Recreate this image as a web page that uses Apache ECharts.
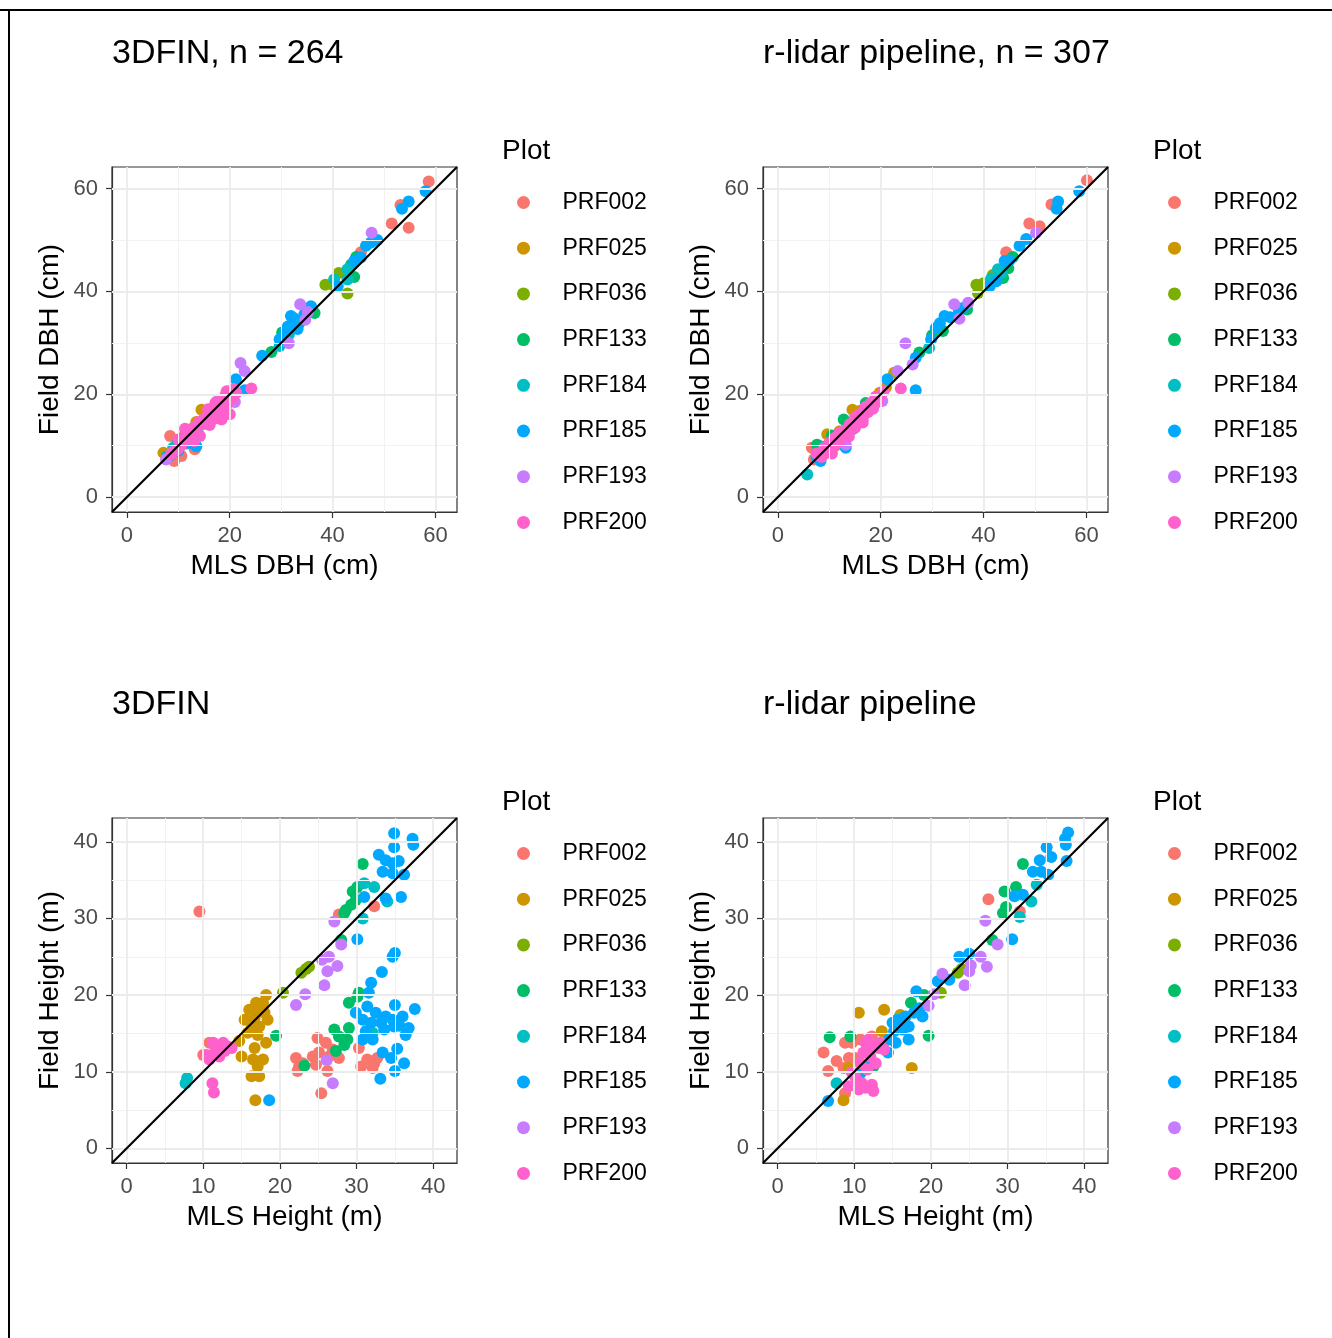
<!DOCTYPE html>
<html><head><meta charset="utf-8">
<script src="https://cdn.jsdelivr.net/npm/echarts@6/dist/echarts.min.js"></script>
<style>html,body{margin:0;padding:0;background:#fff}#c{width:1332px;height:1338px}</style>
</head><body><div id="c"></div>
<script>
const plots = ['PRF002','PRF025','PRF036','PRF133','PRF184','PRF185','PRF193','PRF200'];
const colors = ['#F8766D','#CD9600','#7CAE00','#00BE67','#00BFC4','#00A9FF','#C77CFF','#FF61CC'];

const dbhTicks = [0,20,40,60];
const dbhMinor = [10,30,50];
const htTicks = [0,10,20,30,40];
const htMinor = [5,15,25,35];
const dbhRange = [-2.9, 64.2];
const htRange = [-1.9, 43.1];

// ---- Panel 1: 3DFIN DBH (MLS, Field) ----
const dbhFin002 = [[58.7,61.4],[53.2,56.8],[51.5,53.2],[54.8,52.4],[45.5,47.6],[8.4,11.9],[9.2,7.0],[10.6,8.0],[13.2,9.3],[9.5,8.6],[11.6,10.4],[12.8,12.4],[15.2,14.3],[10.2,10.0],[17.0,16.2]];
const dbhFin025 = [[7.1,8.6],[14.5,17.0],[20.6,20.9],[12.0,12.6],[16.5,16.2],[18.0,18.6],[10.5,11.0],[13.5,14.6],[19.2,19.8],[15.6,16.8],[11.2,12.0]];
const dbhFin036 = [[41.2,43.6],[38.6,41.3],[42.9,39.6],[40.2,41.2],[43.0,43.4]];
const dbhFin133 = [[44.6,46.7],[44.2,42.8],[36.5,35.8],[30.2,32.0],[28.1,28.2],[43.6,45.2],[12.2,11.6],[14.2,13.9],[33.5,33.8],[9.8,10.4]];
const dbhFin184 = [[40.3,42.3],[42.9,44.3],[42.9,42.3],[29.7,29.4],[9.0,9.6],[11.0,10.6],[31.5,31.6]];
const dbhFin185 = [[58.1,59.5],[54.8,57.5],[53.5,56.1],[46.5,48.9],[48.7,50.0],[44.2,45.9],[45.5,46.6],[41.0,41.0],[35.8,37.1],[31.9,35.2],[31.3,33.2],[33.2,32.7],[32.5,34.8],[29.7,30.7],[26.3,27.5],[21.2,22.9],[22.9,20.8],[13.5,9.9],[10.0,9.0],[8.5,8.2],[12.0,10.5],[14.0,12.0],[11.0,11.3],[16.0,15.0],[34.5,35.5],[30.8,32.2],[47.5,49.5],[7.8,7.9]];
const dbhFin193 = [[47.6,51.4],[33.7,37.5],[34.7,34.5],[31.5,29.9],[22.1,26.1],[22.9,24.5],[21.0,18.5],[7.6,7.3],[17.5,18.6],[19.5,19.0],[35.2,36.0]];
const dbhFin200 = [[9.0,8.8],[9.8,9.2],[10.5,10.0],[11.3,13.3],[11.0,10.8],[11.8,12.4],[12.2,11.5],[12.6,12.0],[13.0,12.6],[13.4,13.8],[14.2,11.9],[14.5,14.1],[15.0,15.3],[15.5,14.4],[15.9,16.6],[16.4,15.6],[16.8,17.3],[17.4,16.1],[17.8,18.6],[18.4,15.1],[18.8,17.6],[19.1,19.6],[19.5,18.1],[20.0,16.1],[20.2,20.1],[20.6,19.2],[24.2,21.1],[12.8,13.4],[14.0,14.6],[15.8,17.1],[17.2,18.3],[19.4,20.6],[20.8,21.0],[13.1,10.9],[16.1,14.0],[10.0,11.2],[8.6,8.4],[18.0,16.8],[16.9,15.2],[21.3,20.3]];

// ---- Panel 2: r-lidar DBH ----
const dbhLid002 = [[60.1,61.6],[53.2,56.9],[48.9,53.2],[50.9,52.7],[44.4,47.6],[6.6,9.6],[7.0,7.3],[9.0,8.4],[11.2,10.0],[13.5,12.3],[8.0,10.0],[15.5,14.8]];
const dbhLid025 = [[9.6,12.2],[14.5,17.0],[22.6,24.2],[21.0,21.3],[12.0,12.8],[17.5,18.0],[19.8,20.3],[10.8,11.0],[16.0,16.8]];
const dbhLid036 = [[38.6,41.3],[38.9,39.7],[40.0,41.6],[41.8,43.2]];
const dbhLid133 = [[45.7,46.7],[43.8,42.6],[32.1,32.3],[27.5,28.1],[7.6,10.2],[12.8,15.1],[17.1,18.3],[36.8,36.5],[44.8,44.5],[10.5,12.0],[30.0,31.5]];
const dbhLid184 = [[42.8,44.3],[29.4,29.0],[5.7,4.4],[9.0,9.8],[41.5,42.5],[43.5,43.6]];
const dbhLid185 = [[58.6,59.5],[54.5,57.5],[54.2,56.1],[48.3,50.2],[47.0,48.9],[44.1,45.9],[41.2,41.0],[36.0,36.8],[32.4,35.2],[30.7,32.9],[29.8,30.7],[26.8,27.1],[21.3,22.9],[26.8,20.8],[8.3,7.0],[13.2,9.6],[33.5,35.0],[35.2,36.2],[42.5,42.0],[45.0,46.0],[10.0,9.0],[12.0,10.8],[7.5,7.8],[31.5,33.8],[14.5,13.2]];
const dbhLid193 = [[50.2,51.4],[34.3,37.5],[35.3,34.7],[24.8,29.9],[26.2,25.8],[23.3,24.5],[13.2,10.2],[20.3,18.7],[37.0,37.8]];
const dbhLid200 = [[7.5,8.5],[8.2,8.0],[9.0,9.5],[9.5,8.8],[10.0,10.5],[10.5,9.8],[11.0,11.5],[11.5,10.5],[12.0,12.5],[12.5,11.8],[13.0,13.0],[13.5,12.2],[14.0,14.2],[14.5,13.5],[15.0,15.5],[15.5,14.5],[16.0,16.2],[16.5,15.2],[17.0,17.5],[17.5,16.5],[18.0,18.2],[18.5,17.2],[19.0,19.5],[19.5,18.5],[20.0,19.8],[20.5,20.5],[12.0,10.8],[10.5,8.5],[8.5,7.8],[15.0,13.5],[23.9,21.1],[16.5,14.5],[13.8,11.8],[18.8,18.9]];

// ---- Panel 3: 3DFIN height ----
const htFin002 = [[9.5,30.9],[10.8,13.8],[10.0,12.2],[27.7,30.5],[32.3,31.6],[24.9,14.4],[26.0,13.8],[22.1,11.8],[22.5,10.7],[22.3,10.1],[23.0,11.1],[24.3,12.0],[24.7,10.9],[25.1,12.5],[26.4,12.0],[26.9,12.9],[27.7,11.8],[26.2,10.1],[25.4,7.2],[30.3,13.1],[30.6,10.7],[31.4,11.6],[32.3,11.1],[32.7,11.8],[32.1,10.5]];
const htFin025 = [[18.2,20.0],[17.8,19.0],[16.9,19.0],[16.0,18.1],[17.1,18.1],[18.0,17.7],[15.4,16.8],[16.7,17.0],[18.4,16.8],[16.3,15.7],[17.3,15.9],[15.8,15.1],[17.1,14.8],[18.2,13.8],[14.7,14.0],[16.7,13.1],[15.0,12.0],[16.5,11.6],[17.8,11.6],[17.1,10.7],[16.3,9.4],[17.3,9.4],[16.8,6.3]];
const htFin036 = [[20.4,20.3],[22.8,22.9],[23.4,23.4],[23.8,23.7]];
const htFin133 = [[30.8,37.1],[29.5,33.5],[30.1,34.1],[29.9,32.4],[29.3,31.8],[28.6,31.1],[28.4,30.7],[28.0,27.2],[19.5,14.7],[23.2,10.8],[29.0,19.0],[30.1,19.8],[30.3,20.3],[27.1,15.5],[27.7,14.6],[28.8,14.2],[29.0,15.7],[27.3,12.7],[28.4,13.5]];
const htFin184 = [[7.9,9.2],[7.7,8.5],[31.0,34.6],[32.3,34.1],[30.8,30.0],[34.0,32.2],[32.1,15.1]];
const htFin185 = [[34.9,41.1],[37.3,40.4],[37.4,39.6],[34.9,39.3],[32.9,38.3],[33.8,37.6],[35.5,37.5],[33.4,36.1],[34.7,35.9],[36.2,35.7],[34.7,37.2],[31.0,32.8],[33.8,32.6],[35.8,32.8],[30.1,27.3],[34.7,25.0],[35.0,25.5],[33.3,23.0],[31.9,21.6],[31.6,20.3],[35.0,18.7],[37.6,18.2],[31.4,18.5],[29.9,17.7],[32.5,17.7],[33.8,17.2],[34.7,16.8],[36.0,17.2],[30.8,16.8],[31.9,16.4],[33.2,16.4],[33.6,15.5],[34.9,15.9],[36.8,15.7],[31.2,15.3],[30.8,14.2],[32.1,14.2],[35.3,13.0],[33.4,12.5],[34.5,11.8],[36.2,11.1],[35.0,10.1],[33.1,9.1],[18.6,6.3],[36.4,14.8],[35.6,16.0]];
const htFin193 = [[27.1,29.6],[28.0,26.6],[25.5,24.6],[26.4,25.0],[26.2,23.1],[27.5,23.8],[25.8,21.3],[23.3,20.1],[22.1,18.7],[26.1,11.5],[26.9,8.5]];
const htFin200 = [[11.3,13.8],[11.9,13.3],[12.6,13.8],[13.2,13.3],[11.5,12.5],[12.1,12.0],[10.8,11.6],[12.8,12.7],[13.7,13.1],[10.4,12.2],[11.2,8.5],[11.4,7.3]];

// ---- Panel 4: r-lidar height ----
const htLid002 = [[27.5,32.5],[31.6,30.9],[6.0,12.5],[6.6,10.1],[7.7,11.4],[8.6,10.5],[9.3,11.8],[10.1,11.8],[8.8,13.8],[9.7,13.8],[10.8,14.2],[11.7,13.8],[12.3,14.6],[8.8,7.2]];
const htLid025 = [[10.6,17.7],[13.9,18.1],[17.5,10.5],[8.6,6.3],[9.3,10.5],[13.6,15.3],[16.0,17.4]];
const htLid036 = [[23.5,22.9],[21.3,20.3],[24.0,23.4]];
const htLid133 = [[32.0,37.1],[29.6,33.5],[31.1,34.1],[29.8,31.5],[29.4,30.7],[28.0,27.2],[6.8,14.5],[9.5,14.6],[19.7,14.7],[17.4,19.0],[19.1,20.0],[12.5,10.7]];
const htLid184 = [[7.7,8.5],[33.1,32.2],[31.6,30.2],[33.8,34.4]];
const htLid185 = [[37.9,41.2],[37.5,40.4],[37.6,39.6],[35.1,39.3],[35.7,38.0],[34.2,37.6],[37.7,37.5],[33.3,36.1],[34.4,36.1],[35.3,35.7],[30.9,32.9],[32.0,33.1],[30.6,27.3],[23.7,25.0],[25.0,25.4],[20.9,21.8],[22.4,22.0],[18.1,20.5],[18.5,18.3],[18.9,17.2],[17.8,17.7],[16.7,17.2],[15.6,16.8],[15.0,16.4],[17.1,15.9],[16.3,15.5],[15.2,15.3],[17.1,14.2],[14.4,12.5],[15.4,13.8],[14.5,14.2],[6.6,6.2],[10.8,9.8],[12.0,11.0]];
const htLid193 = [[27.1,29.7],[28.7,26.6],[26.5,25.0],[27.3,23.7],[25.2,23.9],[25.0,23.1],[24.4,21.3],[21.5,22.8],[20.4,20.1],[19.7,18.6]];
const htLid200 = [[11.5,13.8],[12.3,13.3],[13.2,13.1],[13.9,12.9],[11.2,12.5],[12.1,12.0],[12.8,11.1],[10.8,11.1],[11.7,10.3],[10.1,9.4],[11.0,8.5],[9.3,8.1],[10.6,7.7],[11.5,7.9],[12.3,8.3],[12.5,7.5],[13.4,13.8],[11.9,14.2],[9.7,9.9],[10.4,8.8]];

const panels = [
  {series:[dbhFin002,dbhFin025,dbhFin036,dbhFin133,dbhFin184,dbhFin185,dbhFin193,dbhFin200], range:dbhRange, ticks:dbhTicks, minor:dbhMinor,
   title:'3DFIN, n = 264', xt:'MLS DBH (cm)', yt:'Field DBH (cm)', left:112, top:167},
  {series:[dbhLid002,dbhLid025,dbhLid036,dbhLid133,dbhLid184,dbhLid185,dbhLid193,dbhLid200], range:dbhRange, ticks:dbhTicks, minor:dbhMinor,
   title:'r-lidar pipeline, n = 307', xt:'MLS DBH (cm)', yt:'Field DBH (cm)', left:763, top:167},
  {series:[htFin002,htFin025,htFin036,htFin133,htFin184,htFin185,htFin193,htFin200], range:htRange, ticks:htTicks, minor:htMinor,
   title:'3DFIN', xt:'MLS Height (m)', yt:'Field Height (m)', left:112, top:818},
  {series:[htLid002,htLid025,htLid036,htLid133,htLid184,htLid185,htLid193,htLid200], range:htRange, ticks:htTicks, minor:htMinor,
   title:'r-lidar pipeline', xt:'MLS Height (m)', yt:'Field Height (m)', left:763, top:818}
];

const FONT = '"Liberation Sans", Arial, Helvetica, sans-serif';
const SIZE = 345;
const grids = [], xAxes = [], yAxes = [], series = [], legends = [], graphics = [];

function axis(gi, p, isX) {
  return {
    type:'value', gridIndex:gi, min:p.range[0], max:p.range[1],
    axisLine:{show:true, onZero:false, lineStyle:{color:'#333333', width:1.2}},
    splitLine:{show:false},
    axisTick:{show:true, customValues:p.ticks, length:6, lineStyle:{color:'#333333', width:1.2}},
    axisLabel:{customValues:p.ticks, fontSize:22, color:'#4D4D4D', fontFamily:FONT, margin: isX ? 13 : 14}
  };
}

panels.forEach((p, gi) => {
  grids.push({left:p.left, top:p.top, width:SIZE, height:SIZE, show:true, borderColor:'#333333', borderWidth:1.2, backgroundColor:'#fff'});
  xAxes.push(axis(gi, p, true));
  yAxes.push(axis(gi, p, false));
  const ml = [];
  p.minor.forEach(v => { ml.push({xAxis:v, lineStyle:{color:'#F2F2F2', width:1, type:'solid'}}); ml.push({yAxis:v, lineStyle:{color:'#F2F2F2', width:1, type:'solid'}}); });
  p.ticks.forEach(v => { ml.push({xAxis:v, lineStyle:{color:'#EBEBEB', width:1.8, type:'solid'}}); ml.push({yAxis:v, lineStyle:{color:'#EBEBEB', width:1.8, type:'solid'}}); });
  series.push({type:'scatter', name:'grid'+gi, xAxisIndex:gi, yAxisIndex:gi, data:[], silent:true, z:1,
    markLine:{silent:true, symbol:['none','none'], label:{show:false}, emphasis:{disabled:true}, animation:false, data:ml}});
  p.series.forEach((d, k) => {
    series.push({type:'scatter', name:plots[k], xAxisIndex:gi, yAxisIndex:gi, data:d, symbolSize:12, z:3,
      itemStyle:{color:colors[k], opacity:1}, emphasis:{disabled:true}});
  });
  series.push({type:'line', name:'diag'+gi, xAxisIndex:gi, yAxisIndex:gi, data:[[p.range[0],p.range[0]],[p.range[1],p.range[1]]],
    symbol:'none', silent:true, z:5, lineStyle:{color:'#000', width:2.2}});

  const right = p.left > 500;
  legends.push({orient:'vertical', left: right ? 1163 : 512, top: p.top + 17.5, data:plots, icon:'circle',
    itemWidth:68, itemHeight:13, itemGap:19.7, selectedMode:false,
    textStyle:{fontSize:23, color:'#000', fontFamily:FONT, lineHeight:26}});
  graphics.push({type:'text', x: right ? 1153 : 502, y: p.top - 16, style:{text:'Plot', font:'28px '+FONT, fill:'#000', align:'left', verticalAlign:'middle'}});
  graphics.push({type:'text', x: p.left, y: p.top - 113, style:{text:p.title, font:'34px '+FONT, fill:'#000', align:'left', verticalAlign:'middle'}});
  graphics.push({type:'text', x: p.left + SIZE/2, y: p.top + SIZE + 54, style:{text:p.xt, font:'28px '+FONT, fill:'#000', align:'center', verticalAlign:'middle'}});
  graphics.push({type:'text', x: p.left - 62, y: p.top + SIZE/2, rotation: Math.PI/2, style:{text:p.yt, font:'28px '+FONT, fill:'#000', align:'center', verticalAlign:'middle'}});
});

graphics.push({type:'line', shape:{x1:0, y1:10, x2:1332, y2:10}, style:{stroke:'#000', lineWidth:2}});
graphics.push({type:'line', shape:{x1:9, y1:9, x2:9, y2:1338}, style:{stroke:'#000', lineWidth:2}});

const chart = echarts.init(document.getElementById('c'), null, {renderer:'canvas'});
chart.setOption({
  animation:false,
  backgroundColor:'#fff',
  grid:grids, xAxis:xAxes, yAxis:yAxes, series:series, legend:legends, graphic:graphics
});
</script></body></html>
